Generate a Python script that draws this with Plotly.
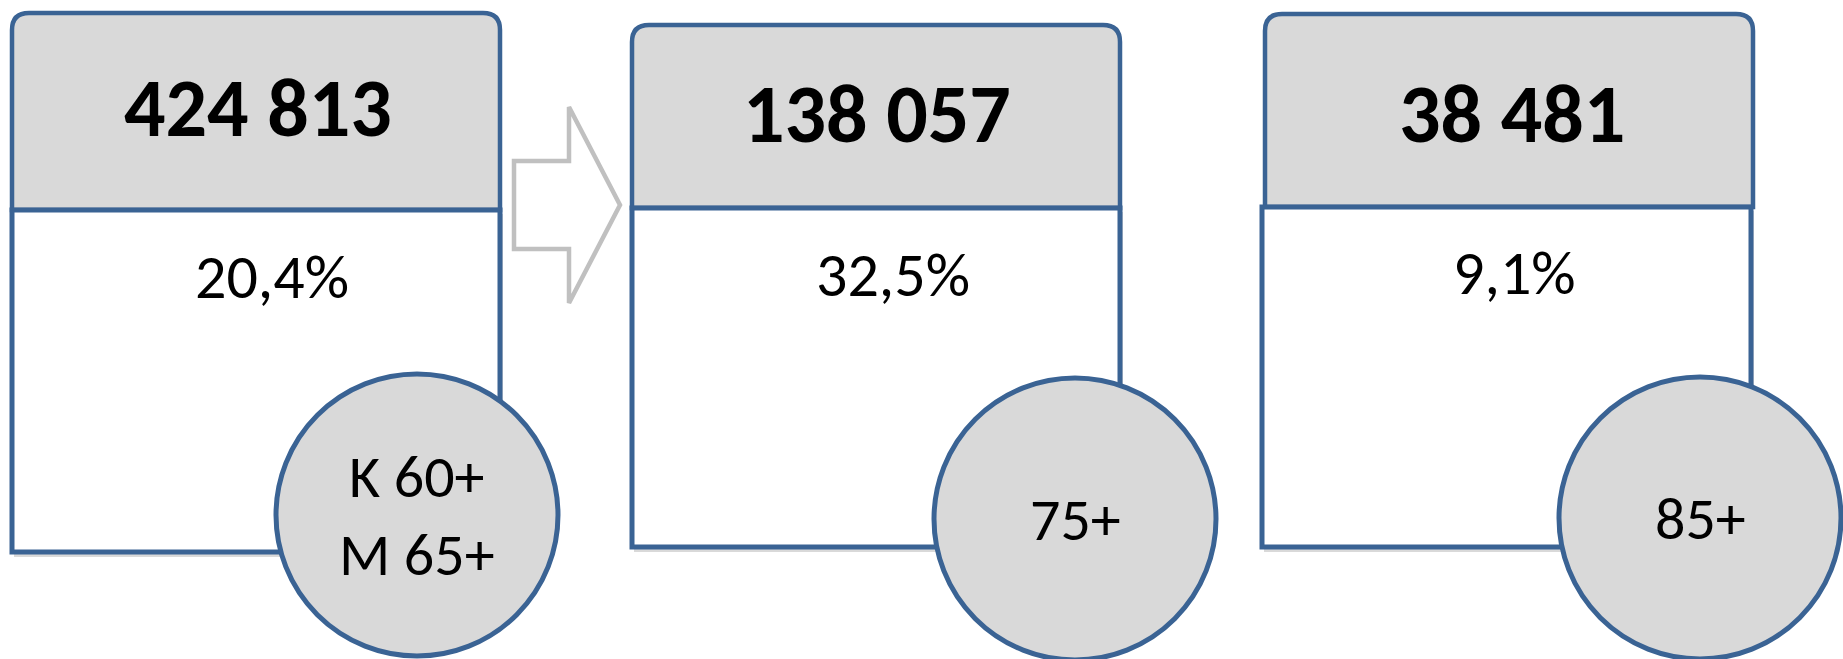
import plotly.graph_objects as go

# ---- data ----
counts = ["424 813", "138 057", "38 481"]
shares = ["20,4%", "32,5%", "9,1%"]
age_groups = ["K 60+<br>M 65+", "75+", "85+"]

# ---- geometry (pixels in a 1843x659 canvas) ----
W, H = 1843, 659
hdr_left = [12, 632, 1265]
hdr_right = [500, 1120, 1753]
hdr_top = [13, 25, 14]
divider = [210, 208, 207]
low_left = [12, 632, 1262]
low_right = [500, 1120, 1751]
low_bottom = [552, 547, 547]
circ_cx = [417, 1075, 1700]
circ_cy = [515, 519, 518]
circ_r = 141
count_xy = [(258, 108), (877, 114), (1512, 114)]
share_xy = [(272, 277), (893, 275), (1514, 273)]

BLUE = "#3A6394"
GREY_FILL = "#D9D9D9"
FONT = "Carlito, Lato, 'Open Sans', sans-serif"

fig = go.Figure()
fig.add_trace(go.Scatter(x=[0, W], y=[0, H], mode="markers",
                         marker=dict(opacity=0), hoverinfo="skip", showlegend=False))

shapes = []
annotations = []
r = 17
for i in range(3):
    x0, x1, yt, yb = hdr_left[i], hdr_right[i], hdr_top[i], divider[i]
    # soft shadow of lower box
    shapes.append(dict(type="rect", xref="x", yref="y",
                       x0=low_left[i] + 2, x1=low_right[i] + 3,
                       y0=yb + 4, y1=low_bottom[i] + 5,
                       line=dict(width=0), fillcolor="rgba(0,0,0,0.15)"))
    # header with rounded top corners
    path = (f"M {x0},{yb} L {x0},{yt + r} Q {x0},{yt} {x0 + r},{yt} "
            f"L {x1 - r},{yt} Q {x1},{yt} {x1},{yt + r} L {x1},{yb} Z")
    shapes.append(dict(type="path", xref="x", yref="y", path=path,
                       fillcolor=GREY_FILL, line=dict(color=BLUE, width=4.5)))
    # lower white box
    shapes.append(dict(type="rect", xref="x", yref="y",
                       x0=low_left[i], x1=low_right[i], y0=yb, y1=low_bottom[i],
                       fillcolor="white", line=dict(color=BLUE, width=5)))
    # circle
    shapes.append(dict(type="circle", xref="x", yref="y",
                       x0=circ_cx[i] - circ_r, x1=circ_cx[i] + circ_r,
                       y0=circ_cy[i] - circ_r, y1=circ_cy[i] + circ_r,
                       fillcolor=GREY_FILL, line=dict(color=BLUE, width=5)))

    annotations.append(dict(x=count_xy[i][0], y=count_xy[i][1], xref="x", yref="y",
                            text=f"<b>{counts[i]}</b>", showarrow=False,
                            font=dict(family=FONT, size=82, color="black"),
                            xanchor="center", yanchor="middle"))
    annotations.append(dict(x=share_xy[i][0], y=share_xy[i][1], xref="x", yref="y",
                            text=shares[i], showarrow=False,
                            font=dict(family=FONT, size=62, color="black"),
                            xanchor="center", yanchor="middle"))
    annotations.append(dict(x=circ_cx[i], y=circ_cy[i], xref="x", yref="y",
                            text=age_groups[i], showarrow=False,
                            font=dict(family=FONT, size=60, color="black"),
                            xanchor="center", yanchor="middle"))

# block arrow between first and second panels
arrow = "M 514,161 L 569,161 L 569,107 L 620,205 L 569,303 L 569,249 L 514,249 Z"
shapes.append(dict(type="path", xref="x", yref="y", path=arrow,
                   fillcolor="white", line=dict(color="#C0C0C0", width=4.5)))

fig.update_layout(
    width=W, height=H, autosize=False,
    margin=dict(l=0, r=0, t=0, b=0),
    paper_bgcolor="white", plot_bgcolor="white",
    xaxis=dict(range=[0, W], visible=False, fixedrange=True),
    yaxis=dict(range=[H, 0], visible=False, fixedrange=True),
    shapes=shapes, annotations=annotations, showlegend=False,
)

fig.write_html("out.html", config={"displayModeBar": False},
               post_script="document.body.style.margin='0';document.body.style.overflow='hidden';")
